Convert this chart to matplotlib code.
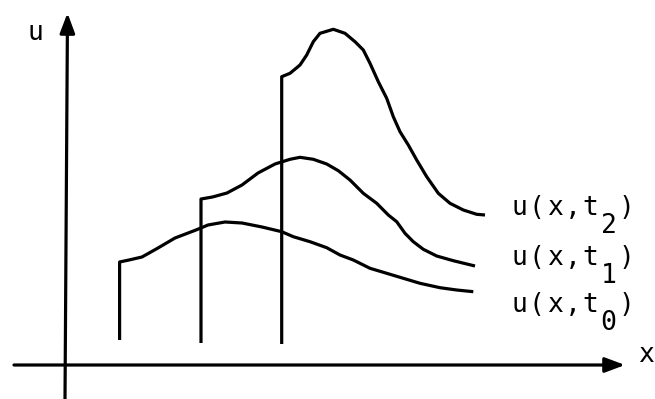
# Sketch of a wave steepening into a shock: u(x,t) at three times
import matplotlib
matplotlib.use("Agg")
import matplotlib.pyplot as plt

# profile at t0 (x, u)
t0_x = [54.6, 64, 77, 93, 110, 131, 143, 160, 177, 197, 216.7, 228.3, 245, 261.7, 275, 288.3,
        305, 321.7, 338.3, 355, 375, 391.7, 408.3]
t0_u = [103, 105, 108, 117, 127, 135, 140, 143, 142, 138, 133.3, 128.3, 123.3, 117.3, 110, 105,
        96.7, 91.7, 86.7, 81.7, 77.3, 75, 73.3]
# profile at t1
t1_x = [136, 147.5, 162, 177, 193, 210, 225, 235, 248.3, 261.7, 273.3, 285, 298.3, 311.7, 323.3,
        331.7, 340, 348.3, 358.3, 371.7, 388.3, 410]
t1_u = [166, 168, 172, 180, 192, 201, 205.7, 207.7, 205.7, 201, 194.3, 185, 171.7, 161.7, 150,
        143.3, 131.7, 123.3, 115.7, 109, 104.3, 99]
# profile at t2
t2_x = [216.7, 225, 235, 241.7, 248.3, 255, 268.3, 280, 290, 298.3, 305, 313.3, 321.7, 328.3,
        335, 343.3, 351.7, 361.7, 373.3, 385, 398.3, 411.7, 420]
t2_u = [288.3, 291.7, 300, 310, 323.3, 331.7, 335.7, 331.7, 323.3, 315, 301.7, 283.3, 266.7, 248.3,
        233.3, 220, 205, 188.3, 171.7, 161.7, 155, 150.7, 150]
# bottom end of the vertical front of each profile
front_bottom = [25, 22, 21]

labels = ["u(x,t0)", "u(x,t1)", "u(x,t2)"]
label_u = [53, 100, 150]

fig = plt.figure(figsize=(6.55, 3.99), dpi=100)
ax = fig.add_axes([0, 0, 1, 1])
ax.set_xlim(-65, 590)
ax.set_ylim(-34, 365)
ax.axis("off")

lw = 2.3
for xs, us, ub in [(t0_x, t0_u, front_bottom[0]), (t1_x, t1_u, front_bottom[1]), (t2_x, t2_u, front_bottom[2])]:
    ax.plot([xs[0]] + xs, [ub] + us, color="black", lw=lw,
            solid_joinstyle="round", solid_capstyle="butt")

# axes with arrows
arrow = dict(arrowstyle="-|>,head_length=0.4,head_width=0.15", lw=2.3,
             color="black", mutation_scale=30, shrinkA=0, shrinkB=0)
ax.annotate("", xy=(560, 0), xytext=(-51, 0), arrowprops=arrow)
ax.annotate("", xy=(2.5, 352), xytext=(0, -34), arrowprops=arrow)

mono = "DejaVu Sans Mono"
ax.text(-30, 332, "u", fontsize=19, family=mono, ha="center", va="center")
ax.text(581, 10, "x", fontsize=19, family=mono, ha="center", va="center")

# labels typed char by char with a wide typewriter pitch, last digit lowered
pitch = 12.9
for text, u in zip(labels, label_u):
    for i, ch in enumerate(text):
        dy = -13 if i == 5 else 0
        ax.annotate(ch, xy=(445, u), xytext=(i * pitch + pitch / 2, dy),
                    textcoords="offset points", fontsize=19, family=mono,
                    ha="center", va="baseline")

fig.savefig("out.png", dpi=100)
